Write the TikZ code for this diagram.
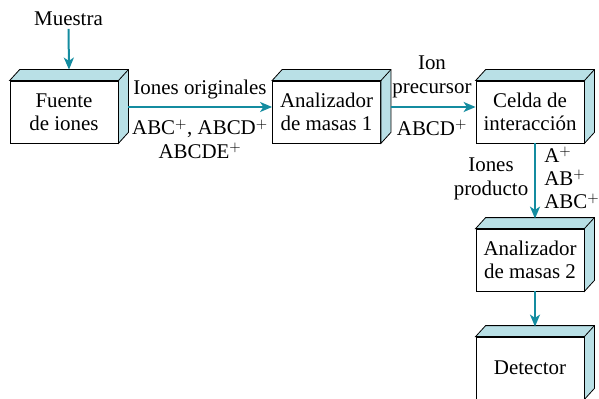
\documentclass[tikz,border=0pt]{standalone}
\usepackage{fontspec}
\setmainfont{Liberation Serif}
\newfontfamily\serifa{Liberation Serif}
\usepackage{tikz}
\usetikzlibrary{arrows.meta, positioning, calc}

\definecolor{cian}{RGB}{20,140,160}
\definecolor{cara}{RGB}{185,224,230}

% caras superior y derecha de una caja
\newcommand{\caras}[1]{%
  \filldraw[fill=cara, line width=0.6pt] (#1.north west) -- ++(10,-11) -- ($(#1.north east)+(10,-11)$)
    -- ($(#1.south east)+(10,-11)$) -- (#1.south east) -- (#1.north east) -- cycle;
  \draw[line width=0.6pt] (#1.north east) -- ++(10,-11);
}
\newcommand{\ion}{$^{+}$}

\begin{document}
\begin{tikzpicture}[x=0.75pt, y=-0.75pt,
    every node/.style={font=\serifa\fontsize{15.7}{17.5}\selectfont},
    caja/.style={rectangle, draw, fill=white, line width=0.6pt, minimum width=81pt, minimum height=46.5pt, inner sep=0pt, align=center},
    etiqueta/.style={inner sep=0pt, align=center},
    flecha/.style={-{Stealth[length=9pt, width=7.5pt, inset=2.5pt]}, line width=1.5pt, cian}
]
    \useasboundingbox (0,0) rectangle (599,399);

    \node[caja] (fuente) at (64,112) {Fuente\\de iones};
    \node[caja] (an1) at (326.5,112) {Analizador\\de masas 1};
    \node[caja] (celda) at (530,112) {Celda de\\interacci\'on};
    \node[caja] (an2) at (530,260) {Analizador\\de masas 2};
    \node[caja] (det) at (530,368) {Detector};
    \caras{fuente}
    \caras{an1}
    \caras{celda}
    \caras{an2}
    \caras{det}

    \node[etiqueta] (muestra) at (68.5,19) {Muestra};
    \node[etiqueta] (orig) at (200,89) {Iones originales};
    \node[etiqueta] (origs) at (200,139) {ABC\ion, ABCD\ion\\ABCDE\ion};
    \node[etiqueta] (prec) at (432,77) {Ion\\precursor};
    \node[etiqueta] (precs) at (432,128) {ABCD\ion};
    \node[etiqueta] (prod) at (491,179) {Iones\\producto};
    \node[etiqueta, anchor=west, align=left] (prods) at (544,178) {A\ion\\AB\ion\\ABC\ion};

    \draw[flecha] ([yshift=-2pt]muestra.south) -- ($(fuente.north)+(5,-11)$);
    \draw[flecha] ($(fuente.east)+(10,-5)$) -- ($(an1.west)+(0,-5)$);
    \draw[flecha] ($(an1.east)+(10,-5)$) -- ($(celda.west)+(0,-5)$);
    \draw[flecha] ($(celda.south)+(5,0)$) -- ($(an2.north)+(5,-10)$);
    \draw[flecha] ($(an2.south)+(5,0)$) -- ($(det.north)+(5,-10)$);
\end{tikzpicture}
\end{document}
